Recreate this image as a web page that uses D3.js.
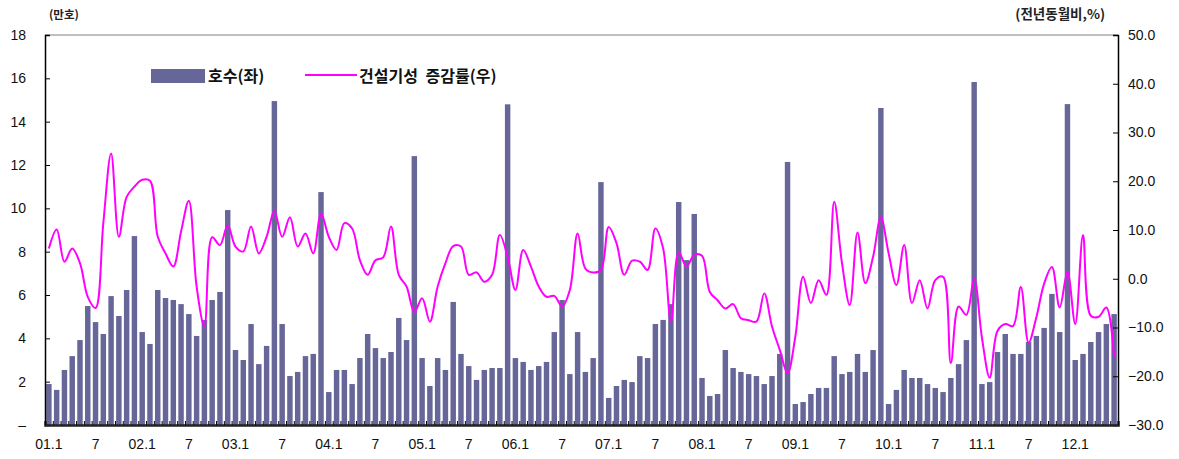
<!DOCTYPE html>
<html><head><meta charset="utf-8">
<script src="https://cdn.jsdelivr.net/npm/d3@7"></script>
<style>
body{margin:0;background:#fff;}
svg{display:block;font-family:"Liberation Sans","Noto Sans CJK KR",sans-serif;}
.kr{font-family:"Noto Sans CJK KR",sans-serif;}
</style></head><body>
<svg id="chart" width="1179" height="459"></svg>
<script>
// months 2001.1 .. 2012.6
const months = d3.range(138).map(i => ({y: 2001 + Math.floor(i/12), m: i%12 + 1}));
// 호수 (만호) - left axis
const units = [
 1.89,1.62,2.54,3.18,3.92,5.49,4.75,4.20,5.95,5.03,6.23,8.72,
 4.29,3.74,6.23,5.86,5.77,5.58,5.12,4.11,4.85,5.77,6.14,9.92,
 3.46,3.00,4.66,2.81,3.65,14.95,4.66,2.26,2.45,3.18,3.28,10.75,
 1.52,2.54,2.54,1.89,3.09,4.20,3.55,3.09,3.37,4.94,3.92,12.41,
 3.09,1.80,3.09,2.54,5.68,3.28,2.72,2.08,2.54,2.63,2.63,14.80,
 3.09,2.91,2.54,2.72,2.91,4.29,5.77,2.35,4.29,2.45,3.09,11.21,
 1.25,1.80,2.08,1.98,3.18,3.09,4.66,4.85,5.58,10.29,7.61,9.74,
 2.17,1.34,1.43,3.46,2.63,2.45,2.35,2.26,1.89,2.26,3.28,12.14,
 0.97,1.06,1.43,1.71,1.71,3.18,2.35,2.45,3.28,2.45,3.46,14.63,
 0.97,1.62,2.54,2.17,2.17,1.89,1.71,1.52,2.17,2.81,3.92,15.83,
 1.89,1.98,3.37,4.20,3.28,3.28,3.83,4.11,4.48,6.05,4.29,14.81,
 3.00,3.28,3.83,4.29,4.66,5.12
];
// 건설기성 증감률 (전년동월비, %) - right axis
const growth = [
 6.2,10.1,3.5,6.2,3.2,-3.7,-6.0,11.4,25.7,8.6,16.8,18.9,
 20.3,20.1,8.6,5.2,2.5,9.7,16.0,-1.6,-9.8,8.5,6.9,11.0,
 6.6,5.6,10.7,5.2,8.6,13.9,8.6,12.6,6.6,9.3,5.2,13.4,
 8.6,5.9,11.4,10.3,3.8,0.8,3.8,4.4,10.7,0.8,-1.6,-6.8,
 -4.0,-8.8,-1.6,3.2,6.7,6.6,0.8,1.3,-0.6,0.8,9.0,4.5,
 -2.3,5.9,2.5,-1.6,-3.7,-3.5,-5.7,-2.3,9.3,2.1,1.3,1.8,
 10.6,7.3,0.8,3.7,3.5,1.8,10.3,6.2,-8.8,5.5,2.5,4.9,
 4.7,-2.7,-4.4,-6.1,-5.2,-8.1,-8.5,-8.8,-3.0,-9.8,-14.6,-19.4,
 -11.9,0.4,-5.0,-0.3,-3.3,15.8,3.2,-5.4,9.5,-0.9,4.5,12.6,
 5.2,-1.3,6.9,-5.0,-0.3,-6.1,-0.3,0.4,-17.3,-5.7,-7.4,0.1,
 -12.1,-20.3,-10.7,-9.3,-9.7,-1.7,-13.1,-7.9,-1.0,2.4,-5.9,1.4,
 -9.3,9.0,-7.6,-7.8,-5.9,-16.2
];
const leftTicks = [0,2,4,6,8,10,12,14,16,18];
const rightTicks = [-30,-20,-10,0,10,20,30,40,50];
const seriesNames = ["호수(좌)", "건설기성 증감률(우)"];
const leftUnit = "(만호)";
const rightUnit = "(전년동월비,%)";

const svg = d3.select("#chart");
const L = 45, R = 1118, T = 35, B = 425;

const x = d3.scaleBand().domain(d3.range(months.length)).range([L, R]).paddingInner(0.3).paddingOuter(0.15);
const xLin = d3.scaleLinear().domain([0, months.length]).range([L, R]);
const yL = d3.scaleLinear().domain([0, 18]).range([B, T]);
const yR = d3.scaleLinear().domain([-30, 50]).range([B, T]);

// top border
svg.append("line").attr("x1", L).attr("x2", R).attr("y1", T).attr("y2", T).attr("stroke", "#808080").attr("stroke-width", 1);

// bars
svg.append("g").selectAll("rect").data(units).join("rect")
  .attr("x", (d, i) => x(i)).attr("width", x.bandwidth())
  .attr("y", d => yL(d)).attr("height", d => B - yL(d))
  .attr("fill", "#666699");

// line
const line = d3.line().x((d, i) => x(i) + x.bandwidth() / 2).y(d => yR(d)).curve(d3.curveCatmullRom.alpha(0.5));
svg.append("path").datum(growth).attr("d", line).attr("fill", "none").attr("stroke", "#FF00FF").attr("stroke-width", 2);

// left axis
const axL = svg.append("g").attr("transform", `translate(${L},0)`)
  .call(d3.axisLeft(yL).tickValues(leftTicks).tickSize(-5).tickPadding(19).tickFormat(d => d === 0 ? "–" : d));
axL.select(".domain").attr("stroke", "#000").attr("stroke-width", 1.5);
axL.selectAll("text").attr("font-size", 14).attr("fill", "#111");

// right axis
const axR = svg.append("g").attr("transform", `translate(${R},0)`)
  .call(d3.axisRight(yR).tickValues(rightTicks).tickSize(-5).tickPadding(10).tickFormat(d3.format(".1f")));
axR.select(".domain").attr("stroke", "#000").attr("stroke-width", 1.5);
axR.selectAll("text").attr("font-size", 14).attr("fill", "#111");

// bottom axis: small ticks at category boundaries
const axB = svg.append("g").attr("transform", `translate(0,${B})`)
  .call(d3.axisBottom(xLin).tickValues(d3.range(months.length + 1)).tickSize(-4).tickFormat(""));
axB.select(".domain").attr("stroke", "#222").attr("stroke-width", 2.5);
axB.selectAll(".tick line").attr("stroke", "#000");

// bottom labels
const labelIdx = d3.range(0, months.length, 6);
const axB2 = svg.append("g").attr("transform", `translate(0,${B})`)
  .call(d3.axisBottom(x).tickValues(labelIdx).tickSize(0).tickPadding(14)
    .tickFormat(i => months[i].m === 1 ? String(months[i].y % 100).padStart(2, "0") + ".1" : String(months[i].m)));
axB2.select(".domain").remove();
axB2.selectAll("text").attr("font-size", 14).attr("fill", "#111");

// unit labels
svg.append("text").attr("class", "kr").attr("x", 49).attr("y", 19).attr("font-size", 11.5).attr("font-weight", 700).attr("fill", "#222").text(leftUnit);
svg.append("text").attr("class", "kr").attr("x", 1105).attr("y", 19).attr("text-anchor", "end").attr("font-size", 13.5).attr("font-weight", 700).attr("fill", "#222").text(rightUnit);

// legend
svg.append("rect").attr("x", 151).attr("y", 69).attr("width", 54).attr("height", 14).attr("fill", "#666699");
svg.append("text").attr("class", "kr").attr("x", 208).attr("y", 82).attr("font-size", 16).attr("font-weight", 700).attr("fill", "#111").text(seriesNames[0]);
svg.append("line").attr("x1", 305).attr("x2", 357).attr("y1", 75).attr("y2", 75).attr("stroke", "#FF00FF").attr("stroke-width", 2);
svg.append("text").attr("class", "kr").attr("x", 359).attr("y", 82).attr("font-size", 16).attr("font-weight", 700).attr("word-spacing", 4).attr("fill", "#111").text(seriesNames[1]);
</script></body></html>
